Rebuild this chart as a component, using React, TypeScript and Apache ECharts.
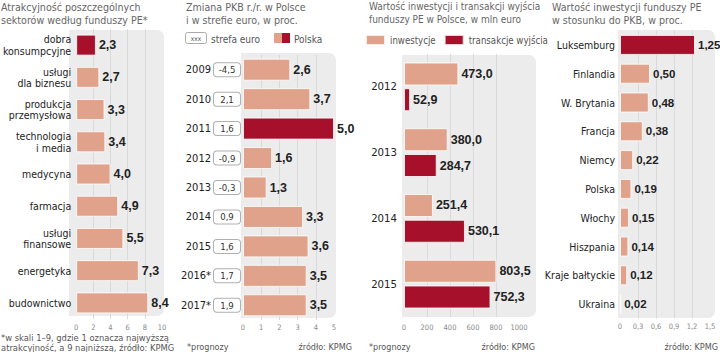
import React, { useEffect, useRef } from "react";
import * as echarts from "echarts";

// ---------- data ----------
const SECTORS = [
  "dobra\nkonsumpcyjne",
  "usługi\ndla biznesu",
  "produkcja\nprzemysłowa",
  "technologia\ni media",
  "medycyna",
  "farmacja",
  "usługi\nfinansowe",
  "energetyka",
  "budownictwo",
];
const SECTOR_SCORES = [2.3, 2.7, 3.3, 3.4, 4.0, 4.9, 5.5, 7.3, 8.4];
const SECTOR_HIGHLIGHT = "dobra\nkonsumpcyjne";
const SECTOR_TICKS = { min: 0, max: 10, interval: 2 };

const YEARS_GDP = ["2009", "2010", "2011", "2012", "2013", "2014", "2015", "2016*", "2017*"];
const GDP_POLAND = [2.6, 3.7, 5.0, 1.6, 1.3, 3.3, 3.6, 3.5, 3.5];
const GDP_EURO = [-4.5, 2.1, 1.6, -0.9, -0.3, 0.9, 1.6, 1.7, 1.9];
const GDP_HIGHLIGHT = "2011";
const GDP_TICKS = { min: 0, max: 5, interval: 1 };

const YEARS_PE = ["2012", "2013", "2014", "2015"];
const PE_INVEST = [473.0, 380.0, 251.4, 803.5];
const PE_EXIT = [52.9, 284.7, 530.1, 752.3];
const PE_TICKS = { min: 0, max: 1000, interval: 200 };

const COUNTRIES = [
  "Luksemburg",
  "Finlandia",
  "W. Brytania",
  "Francja",
  "Niemcy",
  "Polska",
  "Włochy",
  "Hiszpania",
  "Kraje bałtyckie",
  "Ukraina",
];
const PE_GDP_SHARE = [1.25, 0.5, 0.48, 0.38, 0.22, 0.19, 0.15, 0.14, 0.12, 0.02];
const COUNTRY_HIGHLIGHT = "Luksemburg";
const SHARE_TICKS = { min: 0, max: 1.5, interval: 0.3 };

// ---------- styles ----------
const SALMON = "#e0a28a";
const RED = "#a6102b";
const PANEL_BG = "#ececec";
const GRID_LINE = "#dadada";
const FONT = '"DejaVu Sans Condensed", "Liberation Sans", sans-serif';
const NUM_FONT = '"Liberation Sans", Arial, sans-serif';

const comma = (v: number, d: number) => v.toFixed(d).replace(".", ",");

export default function App() {
  const ref = useRef<HTMLDivElement>(null);

  useEffect(() => {
    document.body.style.margin = "0";
    if (!ref.current) return;
    const chart = echarts.init(ref.current, null, { renderer: "svg" });

    const valueLabel = (d: number, size = 12.5) => ({
      show: true,
      position: "right" as const,
      distance: 3,
      fontFamily: NUM_FONT,
      fontWeight: "bold" as const,
      fontSize: size,
      color: "#222",
      formatter: (p: any) => comma(p.value, d),
    });
    const barItem = { borderColor: "rgba(255,255,255,0.8)", borderWidth: 1 };
    const xAxisBase = (
      t: { min: number; max: number; interval: number },
      grid: number,
      margin: number,
      fmt: (v: number) => string
    ) => ({
      type: "value" as const,
      gridIndex: grid,
      min: t.min,
      max: t.max,
      interval: t.interval,
      axisLine: { show: false },
      axisTick: { show: false },
      axisLabel: {
        fontFamily: FONT,
        fontSize: 7.5,
        color: "#888",
        margin,
        formatter: fmt,
      },
      splitLine: { show: true, showMinLine: false, showMaxLine: false, lineStyle: { color: GRID_LINE, width: 1 } },
    });
    const yCatBase = (data: string[], grid: number, margin: number, size = 10.5) => ({
      type: "category" as const,
      gridIndex: grid,
      data,
      inverse: true,
      axisLine: { show: false },
      axisTick: { show: false },
      axisLabel: { fontFamily: FONT, fontSize: size, color: "#222", margin, lineHeight: 11.5 },
    });

    const titleStyle = { fontFamily: FONT, fontSize: 10.6, fontWeight: "normal" as const, color: "#666", lineHeight: 13 };
    const noteStyle = { fontFamily: FONT, fontSize: 9, fontWeight: "normal" as const, color: "#555", lineHeight: 10 };

    const option: any = {
      animation: false,
      backgroundColor: "#fff",
      title: [
        { text: "Atrakcyjność poszczególnych\nsektorów według funduszy PE*", left: 1, top: 0, padding: 0, textStyle: titleStyle },
        { text: "Zmiana PKB r./r. w Polsce\ni w strefie euro, w proc.", left: 186, top: 0, padding: 0, textStyle: titleStyle },
        {
          text: "Wartość inwestycji i transakcji wyjścia\nfunduszy PE w Polsce, w mln euro",
          left: 369,
          top: 0,
          padding: 0,
          textStyle: { ...titleStyle, fontSize: 10 },
        },
        { text: "Wartość inwestycji funduszy PE\nw stosunku do PKB, w proc.", left: 552, top: 0, padding: 0, textStyle: titleStyle },
        {
          text: "*w skali 1–9, gdzie 1 oznacza najwyższą\natrakcyjność, a 9 najniższą, źródło: KPMG",
          left: 1,
          top: 332,
          padding: 0,
          textStyle: { ...noteStyle, fontSize: 9.3 },
        },
        { text: "*prognozy", left: 187, top: 342, padding: 0, textStyle: noteStyle },
        { text: "źródło: KPMG", right: 368, top: 342, padding: 0, textStyle: noteStyle },
        { text: "*prognozy", left: 369, top: 342, padding: 0, textStyle: noteStyle },
        { text: "źródło: KPMG", right: 185, top: 342, padding: 0, textStyle: noteStyle },
        { text: "źródło: KPMG", right: 2, top: 342, padding: 0, textStyle: noteStyle },
      ],
      legend: {
        data: ["inwestycje", "transakcje wyjścia"],
        left: 365,
        top: 34,
        padding: 0,
        icon: "rect",
        itemWidth: 19,
        itemHeight: 10,
        itemGap: 8,
        textStyle: { fontFamily: FONT, fontSize: 9.6, color: "#555" },
      },
      graphic: [
        { type: "rect", z: -10, shape: { x: 69, y: 30, width: 95, height: 286, r: [0, 7, 7, 0] }, style: { fill: PANEL_BG } },
        { type: "rect", z: -10, shape: { x: 241, y: 53, width: 95, height: 265, r: [0, 7, 7, 0] }, style: { fill: PANEL_BG } },
        { type: "rect", z: -10, shape: { x: 402, y: 55, width: 134, height: 262, r: [0, 7, 7, 0] }, style: { fill: PANEL_BG } },
        { type: "rect", z: -10, shape: { x: 618, y: 30, width: 97, height: 288, r: [0, 7, 7, 0] }, style: { fill: PANEL_BG } },
        // legend of panel 2
        { type: "rect", shape: { x: 185.5, y: 32.5, width: 21, height: 11, r: 2 }, style: { fill: "#fff", stroke: "#aaa", lineWidth: 1 } },
        { type: "text", x: 196, y: 38.5, style: { text: "xxx", fontFamily: FONT, fontSize: 6.5, fill: "#444", align: "center", verticalAlign: "middle" } },
        { type: "text", x: 211, y: 39, style: { text: "strefa euro", fontFamily: FONT, fontSize: 10, fill: "#555", verticalAlign: "middle" } },
        { type: "rect", shape: { x: 274, y: 33, width: 8, height: 10 }, style: { fill: SALMON } },
        { type: "rect", shape: { x: 282, y: 33, width: 8, height: 10 }, style: { fill: RED } },
        { type: "text", x: 294, y: 39, style: { text: "Polska", fontFamily: FONT, fontSize: 10, fill: "#555", verticalAlign: "middle" } },
      ],
      grid: [
        { left: 72, width: 90, top: 29, height: 290 },
        { left: 243, width: 91, top: 55, height: 265 },
        { left: 404, width: 115, top: 54, height: 263 },
        { left: 620, width: 90, top: 30.5, height: 288 },
      ],
      xAxis: [
        xAxisBase(SECTOR_TICKS, 0, 4, (v: number) => String(v)),
        xAxisBase(GDP_TICKS, 1, 3, (v: number) => String(v)),
        xAxisBase(PE_TICKS, 2, 6, (v: number) => String(v)),
        xAxisBase(SHARE_TICKS, 3, 4, (v: number) => (v === 0 ? "0" : comma(v, 1))),
      ],
      yAxis: [
        { ...yCatBase(SECTORS, 0, 5) },
        {
          ...yCatBase(YEARS_GDP, 1, 3),
          axisLabel: {
            margin: 3,
            formatter: (val: string, idx: number) => `{y|${val}}{b|${comma(GDP_EURO[idx], 1)}}`,
            rich: {
              y: { fontFamily: FONT, fontSize: 11, color: "#222", padding: [0, 3, 0, 0] },
              b: {
                fontFamily: FONT,
                fontSize: 9.5,
                color: "#333",
                backgroundColor: "#fff",
                borderColor: "#b0b0b0",
                borderWidth: 1,
                borderRadius: 3,
                width: 26,
                height: 13,
                lineHeight: 13,
                align: "center",
              },
            },
          },
        },
        { ...yCatBase(YEARS_PE, 2, 7, 11.3) },
        { ...yCatBase(COUNTRIES, 3, 5) },
      ],
      series: [
        {
          name: "sektory",
          type: "bar",
          xAxisIndex: 0,
          yAxisIndex: 0,
          barWidth: 21,
          data: SECTOR_SCORES.map((v, i) => ({
            value: v,
            itemStyle: { ...barItem, color: SECTORS[i] === SECTOR_HIGHLIGHT ? RED : SALMON },
          })),
          label: valueLabel(1),
        },
        {
          name: "Polska",
          type: "bar",
          xAxisIndex: 1,
          yAxisIndex: 1,
          barWidth: 22,
          data: GDP_POLAND.map((v, i) => ({
            value: v,
            itemStyle: { ...barItem, color: YEARS_GDP[i] === GDP_HIGHLIGHT ? RED : SALMON },
          })),
          label: valueLabel(1),
        },
        {
          name: "inwestycje",
          type: "bar",
          xAxisIndex: 2,
          yAxisIndex: 2,
          barWidth: 23,
          barGap: "12%",
          itemStyle: { ...barItem, color: SALMON },
          data: PE_INVEST,
          label: valueLabel(1),
        },
        {
          name: "transakcje wyjścia",
          type: "bar",
          xAxisIndex: 2,
          yAxisIndex: 2,
          barWidth: 23,
          barGap: "12%",
          itemStyle: { ...barItem, color: RED },
          data: PE_EXIT,
          label: valueLabel(1),
        },
        {
          name: "udział",
          type: "bar",
          xAxisIndex: 3,
          yAxisIndex: 3,
          barWidth: 20,
          data: PE_GDP_SHARE.map((v, i) => ({
            value: v,
            itemStyle: { ...barItem, color: COUNTRIES[i] === COUNTRY_HIGHLIGHT ? RED : SALMON },
          })),
          label: valueLabel(2, 11.5),
        },
      ],
    };

    chart.setOption(option);
    return () => chart.dispose();
  }, []);

  return <div ref={ref} style={{ width: 720, height: 352 }} />;
}
